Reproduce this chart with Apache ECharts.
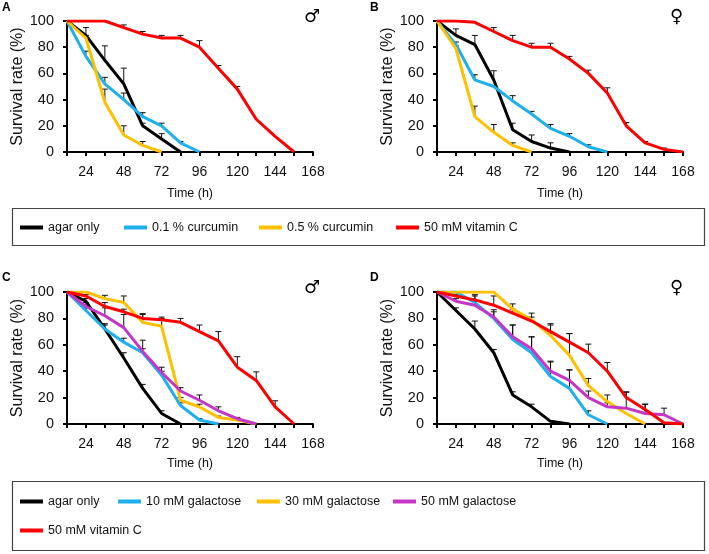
<!DOCTYPE html>
<html><head><meta charset="utf-8">
<script src="https://cdn.jsdelivr.net/npm/echarts@6/dist/echarts.min.js"></script>
<style>html,body{margin:0;padding:0;background:#fff}#c{width:709px;height:554px}</style>
</head><body><div id="c"></div>
<script>
const timePoints = [12,24,36,48,60,72,84,96,108,120,132,144,156,168];
const xTicks = [24,48,72,96,120,144,168];
const yTicks = [0,20,40,60,80,100];

// Panel A (male, curcumin)
const aAgar = [100,89,70,52,20,10,0];
const aAgarErr = [0,6,11,12,2,4,0];
const aCur01 = [100,73,52,40,27,20,7,0];
const aCur01Err = [0,4,5,5,3,2,1,0];
const aCur05 = [100,87,38,13,5,0];
const aCur05Err = [0,2,10,7,3,0];
const aVitC = [100,100,100,95,90,87,87,80,64,48,25,12,0];
const aVitCErr = [0,0,0,2,2,2,2,5,2,2,0,0,0];

// Panel B (female, curcumin)
const bAgar = [100,89,82,55,17,8,3,0];
const bAgarErr = [0,5,7,7,5,5,4,0];
const bCur01 = [100,82,55,50,39,29,18,12,4,0];
const bCur01Err = [0,2,4,0,4,2,3,2,1.5,0];
const bCur05 = [100,79,27,15,5,0];
const bCur05Err = [0,2,8,6,2,0];
const bVitC = [100,100,99,92,85,80,80,71,60,45,20,7,2,0];
const bVitCErr = [0,0,0,3,4,3,3,2,2.5,4,2.5,1,1,0];

// Panel C (male, galactose)
const cAgar = [100,93,72,50,27,8,0];
const cAgarErr = [0,2,3,4,3,2,0];
const cGal10 = [100,86,72,62,54,37,14,3,0];
const cGal10Err = [0,2,4,3,3,3,2,1,0];
const cGal30 = [100,100,95,92,77,74,18,13,5,3,0];
const cGal30Err = [0,0,2.5,5,6,7,2,2,1,1,0];
const cGal50 = [100,89,82,73,55,39,25,18,10,4,0];
const cGal50Err = [0,3,6,10,8.5,4,2.5,4,3,1,0];
const cVitC = [100,97,89,85,80,79,77,70,63,43,33,13,0];
const cVitCErr = [0,1,3,2,3.6,1,3,5,7,8,6.5,4.6,0];

// Panel D (female, galactose)
const dAgar = [100,86,72,54,22,13,2,0];
const dAgarErr = [0,2,6,2.4,2.4,2,0.5,0];
const dGal10 = [100,100,92,80,64,54,36,27,7,0];
const dGal10Err = [0,0,6,6.6,11,12,11.6,14,3,0];
const dGal30 = [100,100,100,100,87,79,67,52,29,17,8,0];
const dGal30Err = [0,0,0,0,4,5,9,16.5,5.5,5,0,0];
const dGal50 = [100,93,90,81,66,57,40,33,20,13,12,8,7,0];
const dGal50Err = [0,2,3,4,9,9,7,8,5,3,12,7,5,0];
const dVitC = [100,97,94,90,84,78,70,62,54,40,20,11,1,0];
const dVitCErr = [0,1,3,7,3,3,5,6.5,6.5,6.6,4.4,4,0,0];

const legend1Names = ['agar only','0.1 % curcumin','0.5 % curcumin','50 mM vitamin C'];
const legend2Names = ['agar only','10 mM galactose','30 mM galactose','50 mM galactose','50 mM vitamin C'];

const COL = {
  'agar only':'#000000',
  '0.1 % curcumin':'#1DB0EC','0.5 % curcumin':'#FFC000',
  '10 mM galactose':'#1DB0EC','30 mM galactose':'#FFC000','50 mM galactose':'#C636C6',
  '50 mM vitamin C':'#FF0000'
};
const FONT = '"Liberation Sans", Arial, sans-serif';

const panels = [
  {grid:{left:67, top:21, width:246, height:131}, xGap:35, series:[
    ['agar only',aAgar,aAgarErr],['0.1 % curcumin',aCur01,aCur01Err],['0.5 % curcumin',aCur05,aCur05Err],['50 mM vitamin C',aVitC,aVitCErr]]},
  {grid:{left:437, top:21, width:246, height:131}, xGap:35, series:[
    ['agar only',bAgar,bAgarErr],['0.1 % curcumin',bCur01,bCur01Err],['0.5 % curcumin',bCur05,bCur05Err],['50 mM vitamin C',bVitC,bVitCErr]]},
  {grid:{left:67, top:292, width:246, height:132}, xGap:33, series:[
    ['agar only',cAgar,cAgarErr],['10 mM galactose',cGal10,cGal10Err],['30 mM galactose',cGal30,cGal30Err],['50 mM galactose',cGal50,cGal50Err],['50 mM vitamin C',cVitC,cVitCErr]]},
  {grid:{left:437, top:292, width:246, height:132}, xGap:33, series:[
    ['agar only',dAgar,dAgarErr],['10 mM galactose',dGal10,dGal10Err],['30 mM galactose',dGal30,dGal30Err],['50 mM galactose',dGal50,dGal50Err],['50 mM vitamin C',dVitC,dVitCErr]]}
];

const grids=[], xAxes=[], yAxes=[], series=[];
panels.forEach((p,i)=>{
  grids.push(Object.assign({containLabel:false}, p.grid));
  xAxes.push({type:'value', gridIndex:i, min:12, max:168, interval:12,
    name:'Time (h)', nameLocation:'middle', nameGap:p.xGap,
    nameTextStyle:{fontFamily:FONT, fontSize:12.5, color:'#111'},
    axisLine:{show:true, onZero:false, lineStyle:{color:'#000', width:2}},
    axisTick:{show:true, length:4, lineStyle:{color:'#000', width:2}},
    splitLine:{show:false},
    axisLabel:{margin:13, fontFamily:FONT, fontSize:14, color:'#111',
      formatter:v=> xTicks.indexOf(v)>=0 ? String(v) : ''}
  });
  yAxes.push({type:'value', gridIndex:i, min:0, max:100, interval:20,
    name:'Survival rate (%)', nameLocation:'middle', nameGap:41,
    nameTextStyle:{fontFamily:FONT, fontSize:16, color:'#111'},
    axisLine:{show:true, lineStyle:{color:'#000', width:2}},
    axisTick:{show:true, length:4, lineStyle:{color:'#000', width:2}},
    splitLine:{show:false},
    axisLabel:{margin:13, fontFamily:FONT, fontSize:14.5, color:'#111',
      formatter:v=> yTicks.indexOf(v)>=0 ? String(v) : ''}
  });
  // error bars
  p.series.forEach(([name, vals, errs])=>{
    series.push({type:'custom', xAxisIndex:i, yAxisIndex:i, z:2, silent:true,
      data: vals.map((v,k)=>[timePoints[k], v, errs[k]]).filter(d=>d[2]>0),
      renderItem:(params, api)=>{
        const t=api.value(0), v=api.value(1), e=api.value(2);
        const p0=api.coord([t,v]), p1=api.coord([t,v+e]);
        return {type:'group', children:[
          {type:'line', shape:{x1:p0[0],y1:p0[1],x2:p1[0],y2:p1[1]}, style:{stroke:'#111', lineWidth:1}},
          {type:'line', shape:{x1:p1[0]-3,y1:p1[1],x2:p1[0]+3,y2:p1[1]}, style:{stroke:'#111', lineWidth:1}}
        ]};
      }
    });
  });
  p.series.forEach(([name, vals])=>{
    series.push({type:'line', name, xAxisIndex:i, yAxisIndex:i, z:3,
      data: vals.map((v,k)=>[timePoints[k], v]),
      showSymbol:false, symbol:'none', animation:false,
      lineStyle:{color:COL[name], width:3}, itemStyle:{color:COL[name]}
    });
  });
});

function legendItem(name, left, top){
  return {data:[name], left, top, orient:'horizontal', icon:'rect', itemWidth:23, itemHeight:4,
    itemGap:0, padding:0, selectedMode:false,
    textStyle:{fontFamily:FONT, fontSize:12.5, color:'#111', padding:[0,0,0,0]}};
}
const legends = [
  legendItem(legend1Names[0], 20, 221),
  legendItem(legend1Names[1], 124, 221),
  legendItem(legend1Names[2], 259, 221),
  legendItem(legend1Names[3], 396, 221),
  legendItem(legend2Names[0], 20, 495),
  legendItem(legend2Names[1], 118, 495),
  legendItem(legend2Names[2], 257, 495),
  legendItem(legend2Names[3], 393, 495),
  legendItem(legend2Names[4], 20, 524)
];

const graphics = [
  {type:'rect', shape:{x:12.5,y:208.5,width:692,height:37}, style:{fill:'none', stroke:'#444', lineWidth:1.2}},
  {type:'rect', shape:{x:12.5,y:481.5,width:692,height:69}, style:{fill:'none', stroke:'#444', lineWidth:1.2}},
  {type:'text', left:2, top:2, style:{text:'A', font:'bold 12px '+FONT, fill:'#000'}},
  {type:'text', left:370, top:2, style:{text:'B', font:'bold 12px '+FONT, fill:'#000'}},
  {type:'text', left:2, top:272, style:{text:'C', font:'bold 12px '+FONT, fill:'#000'}},
  {type:'text', left:370, top:272, style:{text:'D', font:'bold 12px '+FONT, fill:'#000'}},
  {type:'text', left:304, top:8, style:{text:'♂', font:'18px "DejaVu Sans"', fill:'#000'}},
  {type:'text', left:670, top:8, style:{text:'♀', font:'18px "DejaVu Sans"', fill:'#000'}},
  {type:'text', left:304, top:279, style:{text:'♂', font:'18px "DejaVu Sans"', fill:'#000'}},
  {type:'text', left:670, top:279, style:{text:'♀', font:'18px "DejaVu Sans"', fill:'#000'}}
];

const chart = echarts.init(document.getElementById('c'), null, {renderer:'canvas'});
chart.setOption({
  animation:false, backgroundColor:'#fff',
  grid:grids, xAxis:xAxes, yAxis:yAxes, series, legend:legends, graphic:graphics
});
</script></body></html>
